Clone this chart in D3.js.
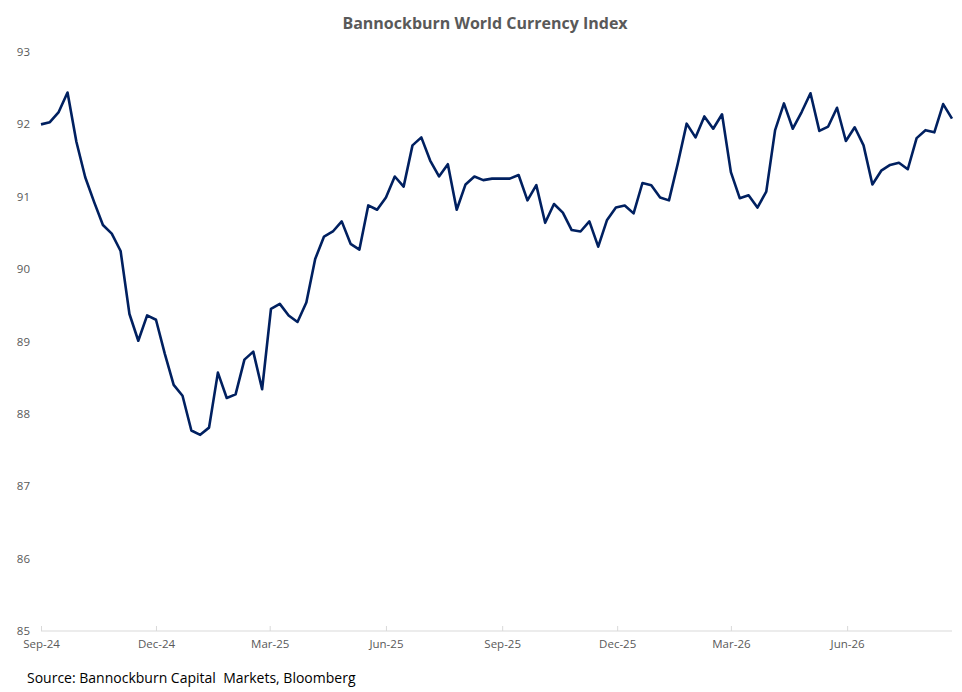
<!DOCTYPE html>
<html>
<head>
<meta charset="utf-8">
<script src="https://cdn.jsdelivr.net/npm/d3@7"></script>
<style>
body { margin: 0; background: #fff; font-family: "Open Sans", "Noto Sans", sans-serif; }
</style>
</head>
<body>
<script>
var w = 962, h = 692;

// weekly index values, starting 1 Sep 2024
var startDate = new Date(2024, 8, 1);
var values = [
  92.00, 92.03, 92.17, 92.44, 91.76, 91.27, 90.93, 90.61, 90.49, 90.25,
  89.38, 89.01, 89.36, 89.30, 88.83, 88.40, 88.25, 87.77, 87.71, 87.81,
  88.57, 88.22, 88.27, 88.75, 88.86, 88.34, 89.45, 89.52, 89.36, 89.27,
  89.54, 90.14, 90.45, 90.52, 90.66, 90.35, 90.27,
  90.88, 90.82, 90.99, 91.28, 91.14, 91.71, 91.82, 91.50, 91.28, 91.45,
  90.82, 91.17, 91.28, 91.23, 91.25, 91.25, 91.25, 91.30, 90.95, 91.16,
  90.64, 90.90, 90.78, 90.54, 90.52, 90.66, 90.31, 90.68, 90.85, 90.88,
  90.77, 91.19, 91.16, 90.99,
  90.95, 91.46, 92.01, 91.82, 92.11, 91.94, 92.14, 91.34, 90.98, 91.02,
  90.85, 91.07, 91.92, 92.29, 91.94, 92.17, 92.43, 91.91, 91.97, 92.23,
  91.77, 91.96, 91.71, 91.17, 91.36, 91.44, 91.47, 91.38, 91.81, 91.92,
  91.89, 92.28, 92.08
];
var yTicks = [85, 86, 87, 88, 89, 90, 91, 92, 93];
var xTickMonths = ["2024-09", "2024-12", "2025-03", "2025-06", "2025-09", "2025-12", "2026-03", "2026-06"];
var title = "Bannockburn World Currency Index";
var source = "Source: Bannockburn Capital  Markets, Bloomberg";

var data = values.map(function(v, i){
    return { date: d3.timeDay.offset(startDate, i * 7), value: v };
});
var parseMonth = d3.timeParse("%Y-%m");

var svg = d3.select("body").append("svg")
    .attr("width", w)
    .attr("height", h);

var x = d3.scaleTime()
    .domain([startDate, data[data.length - 1].date])
    .range([41, 952]);

var y = d3.scaleLinear()
    .domain([85, 93])
    .range([631, 52]);

// x axis
var xAxis = d3.axisBottom(x)
    .tickValues(xTickMonths.map(parseMonth))
    .tickSize(-5)
    .tickPadding(9)
    .tickFormat(d3.timeFormat("%b-%y"));

var gx = svg.append("g")
    .attr("transform", "translate(0,631)")
    .call(xAxis);
gx.select(".domain").attr("stroke", "#d9d9d9").attr("d", "M41,0H952");
gx.selectAll(".tick line").attr("stroke", "#d9d9d9");
gx.selectAll(".tick text")
    .attr("fill", "#595959")
    .style("font-size", "11.5px")
    .style("font-family", "Open Sans, sans-serif");

// y axis labels
svg.selectAll(".ylab")
    .data(yTicks)
    .enter()
    .append("text")
    .attr("class", "ylab")
    .attr("x", 30)
    .attr("y", function(d){ return y(d) + 4; })
    .attr("text-anchor", "end")
    .attr("fill", "#595959")
    .style("font-size", "11.5px")
    .text(function(d){ return d; });

var line = d3.line()
    .x(function(d){ return x(d.date); })
    .y(function(d){ return y(d.value); });

svg.append("path")
    .datum(data)
    .attr("fill", "none")
    .attr("stroke", "#002060")
    .attr("stroke-width", 2.6)
    .attr("stroke-linejoin", "round")
    .attr("d", line);

svg.append("text")
    .attr("x", 485)
    .attr("y", 29)
    .attr("text-anchor", "middle")
    .attr("fill", "#595959")
    .style("font-size", "16px")
    .style("font-weight", "bold")
    .text(title);

svg.append("text")
    .attr("x", 27)
    .attr("y", 683)
    .attr("fill", "#000")
    .style("font-size", "14px")
    .style("white-space", "pre")
    .text(source);
</script>
</body>
</html>
